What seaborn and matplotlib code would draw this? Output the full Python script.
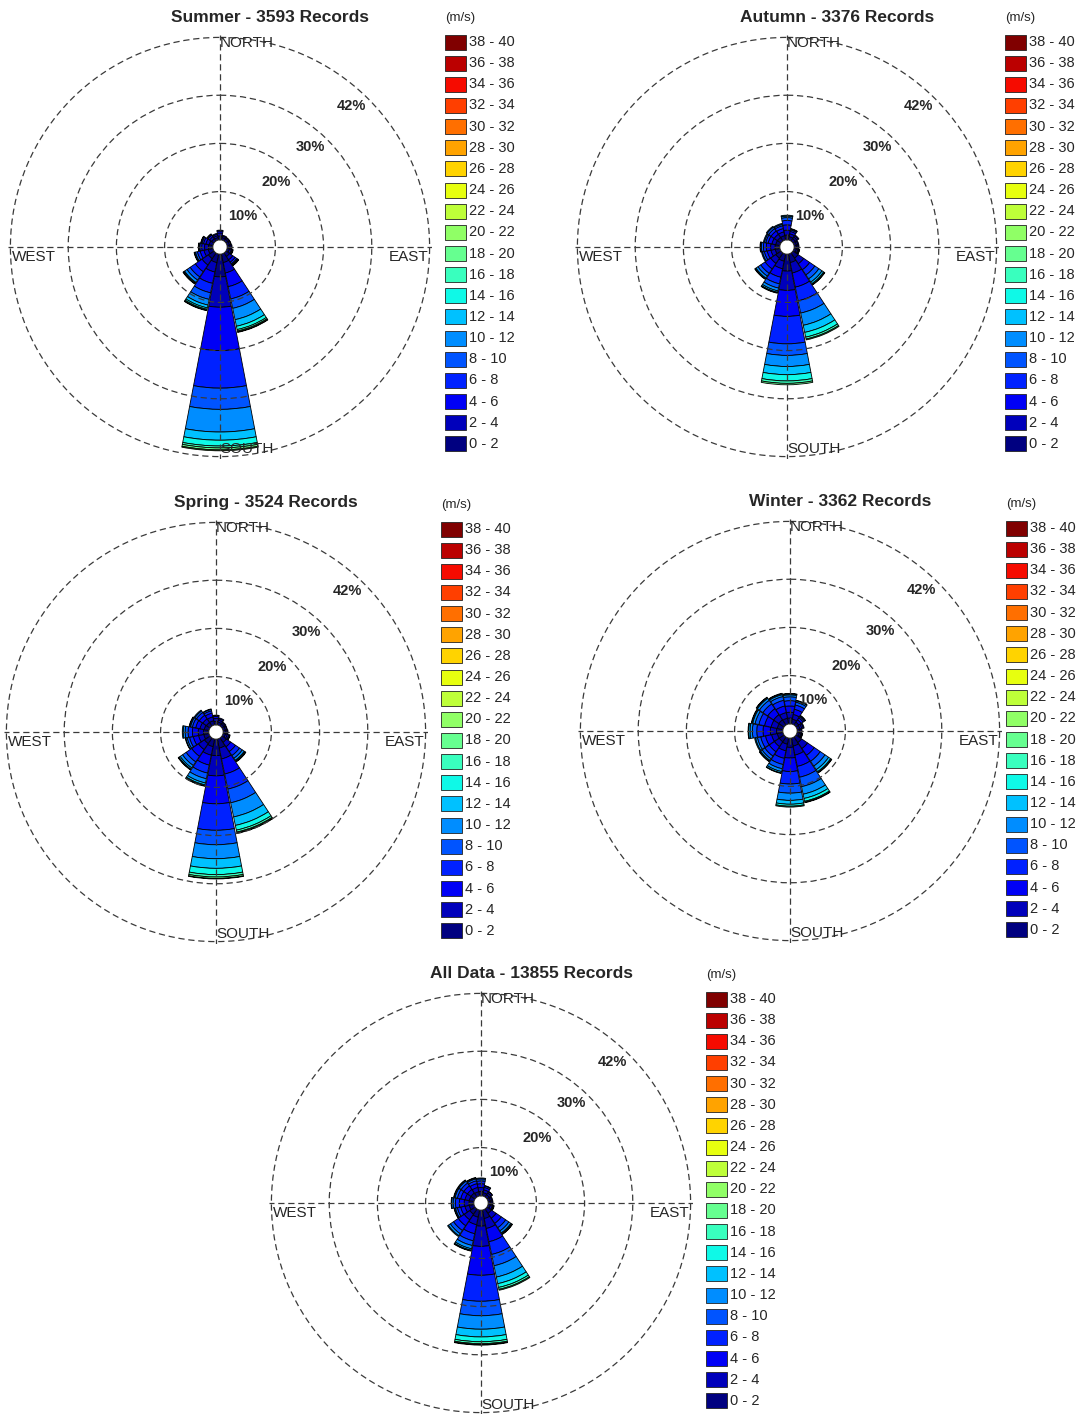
import numpy as np
import matplotlib
matplotlib.use("Agg")
from matplotlib import pyplot as plt
from matplotlib.patches import Rectangle
import seaborn as sns

sns.set_style("white")
plt.rcParams['font.family'] = ['Liberation Sans', 'DejaVu Sans']

# 16 compass sectors, clockwise from north
directions = ["N", "NNE", "NE", "ENE", "E", "ESE", "SE", "SSE",
              "S", "SSW", "SW", "WSW", "W", "WNW", "NW", "NNW"]
speed_bins = ["0 - 2", "2 - 4", "4 - 6", "6 - 8", "8 - 10", "10 - 12", "12 - 14",
              "14 - 16", "16 - 18", "18 - 20", "20 - 22", "22 - 24", "24 - 26",
              "26 - 28", "28 - 30", "30 - 32", "32 - 34", "34 - 36", "36 - 38", "38 - 40"]
ring_values = [10, 20, 30, 42]

# frequency (%) per speed bin, one list per direction (missing bins = 0)
summer = [
    [0.8, 0.6, 0.4, 0.2],
    [0.5, 0.3, 0.2],
    [0.5, 0.3, 0.1],
    [0.5, 0.3, 0.1],
    [0.5, 0.3, 0.2],
    [0.5, 0.4, 0.2, 0.1, 0.1],
    [0.9, 0.8, 0.6, 0.4, 0.2, 0.1, 0.1, 0.05, 0.05],
    [1.8, 2.2, 2.9, 2.6, 2.0, 2.4, 1.4, 0.7, 0.3, 0.2, 0.1],
    [4.7, 6.3, 9.0, 7.8, 4.4, 4.7, 1.7, 1.2, 0.4, 0.4, 0.2],
    [1.8, 2.0, 2.4, 2.0, 1.4, 1.2, 0.6, 0.3, 0.2, 0.1],
    [1.4, 1.6, 1.7, 1.3, 0.8, 0.6, 0.2, 0.1, 0.1],
    [1.0, 0.9, 0.8, 0.6, 0.4, 0.2, 0.1],
    [0.9, 0.8, 0.6, 0.4, 0.2, 0.1],
    [0.8, 0.7, 0.5, 0.3, 0.2, 0.1],
    [0.6, 0.5, 0.4, 0.2, 0.1],
    [0.5, 0.4, 0.3, 0.2],
]
autumn = [
    [1.0, 1.0, 1.1, 0.9, 0.6, 0.3, 0.2],
    [0.7, 0.6, 0.5, 0.3, 0.2, 0.1],
    [0.6, 0.4, 0.3, 0.2],
    [0.5, 0.3, 0.2],
    [0.5, 0.3, 0.2],
    [0.5, 0.3, 0.2, 0.1, 0.1],
    [1.3, 1.4, 1.5, 1.3, 1.0, 0.8, 0.4, 0.2, 0.1],
    [1.8, 2.2, 3.0, 2.9, 2.6, 2.6, 1.5, 1.0, 0.4, 0.2],
    [3.5, 4.0, 5.4, 5.7, 2.4, 2.3, 1.7, 1.3, 0.5, 0.3],
    [1.5, 1.6, 1.8, 1.4, 0.9, 0.6, 0.3, 0.1, 0.1],
    [1.3, 1.3, 1.4, 1.1, 0.7, 0.5, 0.2, 0.1],
    [1.0, 0.9, 0.8, 0.6, 0.4, 0.2],
    [1.0, 0.9, 0.9, 0.6, 0.4, 0.2, 0.1],
    [0.9, 0.8, 0.8, 0.5, 0.3, 0.2],
    [0.9, 0.8, 0.8, 0.6, 0.4, 0.2],
    [0.9, 0.8, 0.7, 0.6, 0.3, 0.2],
]
spring = [
    [0.7, 0.6, 0.4, 0.2, 0.1],
    [0.6, 0.4, 0.3, 0.2],
    [0.5, 0.3, 0.2],
    [0.5, 0.3, 0.1],
    [0.5, 0.3, 0.2],
    [0.5, 0.4, 0.3, 0.2, 0.1],
    [1.1, 1.1, 1.2, 1.0, 0.7, 0.5, 0.2, 0.1, 0.1],
    [1.9, 2.3, 3.2, 3.2, 2.9, 3.0, 1.8, 1.0, 0.4, 0.2, 0.1],
    [3.4, 4.2, 5.8, 5.5, 3.0, 2.9, 2.0, 1.3, 0.5, 0.3, 0.1],
    [1.6, 1.8, 2.1, 1.7, 1.2, 0.9, 0.4, 0.2, 0.1],
    [1.4, 1.5, 1.7, 1.4, 0.9, 0.6, 0.3, 0.1, 0.1],
    [1.1, 1.1, 1.1, 0.8, 0.5, 0.3, 0.1],
    [1.1, 1.1, 1.2, 0.9, 0.6, 0.4, 0.2],
    [1.0, 0.9, 0.9, 0.7, 0.4, 0.2, 0.1],
    [0.9, 0.9, 0.9, 0.7, 0.4, 0.2],
    [0.9, 0.8, 0.8, 0.5, 0.3, 0.1],
]
winter = [
    [1.2, 1.2, 1.3, 1.1, 0.8, 0.4, 0.2, 0.1],
    [1.0, 1.0, 1.1, 0.9, 0.6, 0.3, 0.1],
    [0.7, 0.6, 0.5, 0.3, 0.2, 0.1],
    [0.6, 0.4, 0.3, 0.2],
    [0.5, 0.3, 0.2],
    [0.5, 0.3, 0.2, 0.1, 0.1],
    [1.4, 1.5, 1.7, 1.5, 1.2, 0.9, 0.5, 0.2, 0.1],
    [1.7, 1.9, 2.4, 2.3, 2.0, 1.6, 0.9, 0.6, 0.2, 0.1],
    [1.9, 2.2, 2.8, 2.6, 1.9, 1.5, 0.8, 0.4, 0.2],
    [1.3, 1.4, 1.6, 1.3, 0.9, 0.6, 0.3, 0.1],
    [1.2, 1.2, 1.3, 1.1, 0.7, 0.4, 0.2, 0.1],
    [1.2, 1.2, 1.3, 1.0, 0.7, 0.4, 0.2],
    [1.3, 1.3, 1.5, 1.3, 0.9, 0.5, 0.3, 0.1],
    [1.2, 1.3, 1.4, 1.2, 0.8, 0.5, 0.2, 0.1],
    [1.3, 1.3, 1.5, 1.2, 0.9, 0.5, 0.2, 0.1],
    [1.2, 1.2, 1.4, 1.2, 0.8, 0.4, 0.2, 0.1],
]
all_data = [
    [0.9, 0.8, 0.8, 0.6, 0.4, 0.2],
    [0.7, 0.6, 0.5, 0.3, 0.1],
    [0.6, 0.4, 0.3, 0.1],
    [0.5, 0.3, 0.2],
    [0.5, 0.3, 0.2],
    [0.5, 0.4, 0.2, 0.1, 0.1],
    [1.1, 1.2, 1.3, 1.1, 0.8, 0.5, 0.2, 0.1, 0.1],
    [1.8, 2.1, 2.8, 2.7, 2.4, 2.4, 1.4, 0.8, 0.4, 0.2],
    [3.3, 4.2, 6.0, 5.4, 3.0, 2.8, 1.6, 1.0, 0.4, 0.2, 0.1],
    [1.5, 1.6, 1.9, 1.5, 1.0, 0.7, 0.3, 0.1, 0.1],
    [1.3, 1.4, 1.5, 1.2, 0.8, 0.5, 0.2],
    [1.0, 0.9, 0.9, 0.7, 0.4, 0.2, 0.1],
    [1.0, 1.0, 1.0, 0.8, 0.5, 0.3, 0.1],
    [1.0, 0.9, 0.9, 0.7, 0.5, 0.2, 0.1],
    [1.0, 0.9, 0.9, 0.7, 0.5, 0.2, 0.1],
    [0.9, 0.9, 0.8, 0.6, 0.4, 0.2, 0.1],
]

titles = ["Summer - 3593 Records", "Autumn - 3376 Records", "Spring - 3524 Records",
          "Winter - 3362 Records", "All Data - 13855 Records"]
datasets = [summer, autumn, spring, winter, all_data]
# rose centre and legend top-left, in pixels
centers = [(220, 247), (787, 247), (216, 732), (790, 731), (481, 1203)]
legend_pos = [(445, 18), (1005, 18), (441, 505), (1006, 504), (706, 975)]

W, H = 1080, 1414
R_PX = 212
RMAX = 42.5
colors = plt.get_cmap('jet')(np.linspace(0, 1, len(speed_bins)))
label_angles = [36, 41, 42, 43]

fig = plt.figure(figsize=(W / 100, H / 100), dpi=100)
theta = np.deg2rad(np.arange(16) * 22.5)
width = np.deg2rad(22.5) * 0.96
grid_kw = dict(color='#3a3a3a', linestyle=(0, (5, 3)), linewidth=0.9)

for data, (cx, cy) in zip(datasets, centers):
    ax = fig.add_axes([(cx - R_PX) / W, (H - cy - R_PX) / H, 2 * R_PX / W, 2 * R_PX / H],
                      projection='polar')
    ax.set_theta_zero_location('N')
    ax.set_theta_direction(-1)
    vals = np.array([row + [0] * (len(speed_bins) - len(row)) for row in data])
    bottom = np.zeros(16)
    for k in range(len(speed_bins)):
        h = vals[:, k]
        m = h > 0
        if m.any():
            ax.bar(theta[m], h[m], width=width, bottom=bottom[m], color=colors[k],
                   edgecolor='black', linewidth=0.6)
        bottom += h
    ax.set_ylim(0, RMAX)
    ax.set_rorigin(-1.5)
    ax.set_yticks(ring_values)
    ax.set_yticklabels([])
    ax.set_xticks(np.deg2rad([0, 90, 180, 270]))
    ax.set_xticklabels([])
    ax.grid(True, **grid_kw)
    ax.set_axisbelow(False)
    ax.spines['polar'].set_visible(False)
    ax.patch.set_alpha(0)

    for rv, ang in zip(ring_values, label_angles):
        ax.text(np.deg2rad(ang), rv - 3.6, f"{rv}%", ha='center', va='center',
                fontsize=10.5, fontweight='bold')
    ax.text(0, 40.8, "NORTH", ha='left', va='center', fontsize=11)
    ax.text(np.pi, 40.4, "SOUTH", ha='left', va='center', fontsize=11)
    ax.annotate("WEST", xy=(1.5 * np.pi, 41.7), xytext=(0, -2), textcoords='offset points',
                ha='left', va='top', fontsize=11, annotation_clip=False)
    ax.annotate("EAST", xy=(0.5 * np.pi, 41.7), xytext=(0, -2), textcoords='offset points',
                ha='right', va='top', fontsize=11, annotation_clip=False)

# overlay in pixel units for titles and legends
ov = fig.add_axes([0, 0, 1, 1])
ov.set_xlim(0, W)
ov.set_ylim(H, 0)
ov.axis('off')
ov.patch.set_alpha(0)

for title, (cx, cy), (lx, ly) in zip(titles, centers, legend_pos):
    ov.text(cx + 50, cy - 229, title, ha='center', va='center', fontsize=12.5,
            fontweight='bold')
    ov.text(lx, ly, "(m/s)", ha='left', va='center', fontsize=9.5)
    for i, (lab, c) in enumerate(zip(speed_bins[::-1], colors[::-1])):
        y = ly + 24 + i * 21.15
        ov.add_patch(Rectangle((lx, y - 7.5), 21, 15, facecolor=c, edgecolor='#222222',
                               linewidth=0.6))
        ov.text(lx + 24, y, lab, ha='left', va='center', fontsize=10.5)

fig.savefig("out.png", dpi=100)
